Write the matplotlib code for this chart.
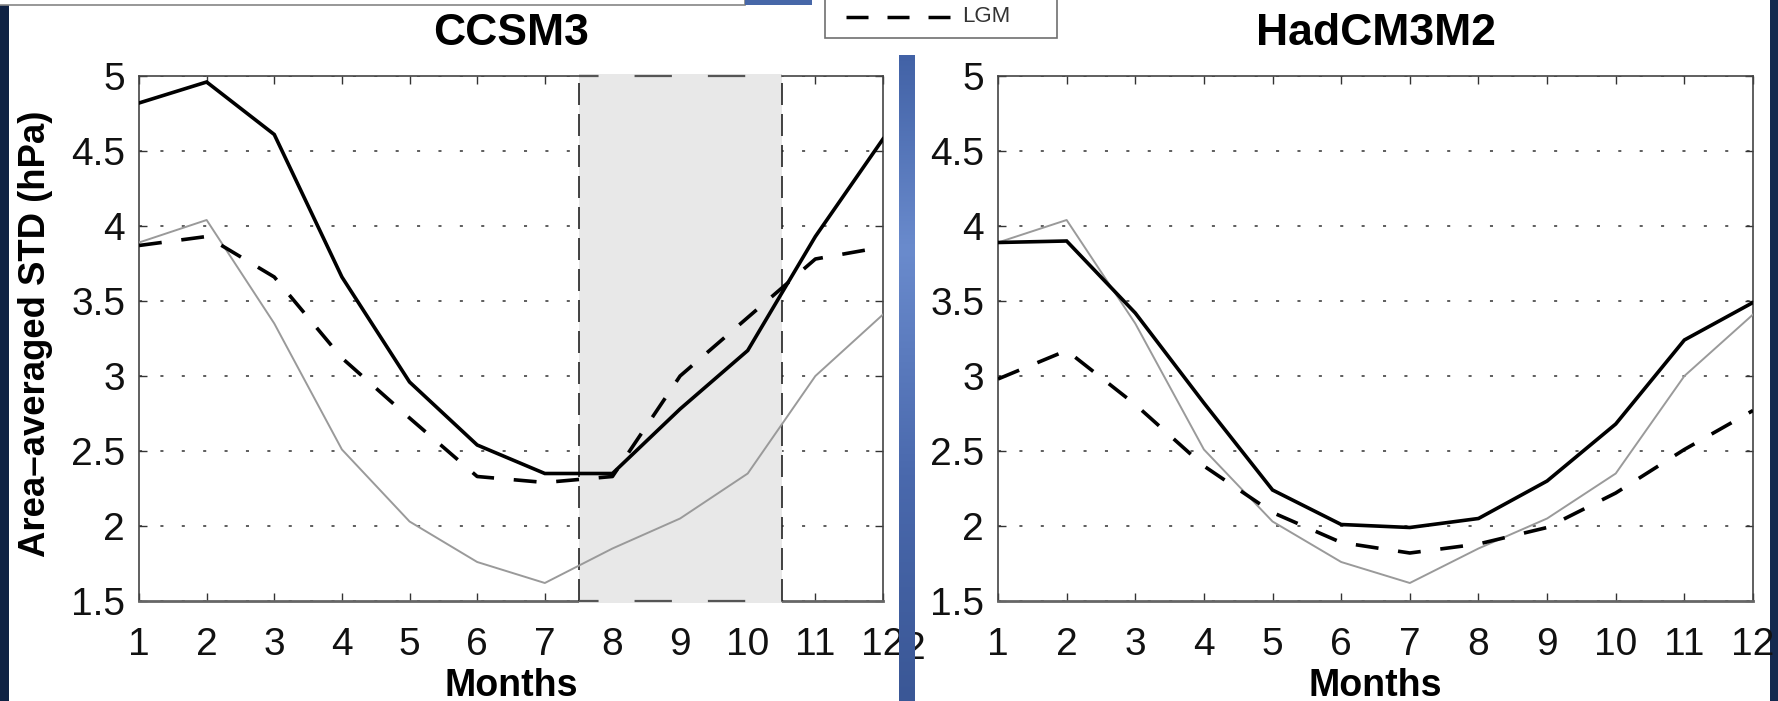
import numpy as np
import matplotlib
matplotlib.use("Agg")
import matplotlib.pyplot as plt
from matplotlib.patches import Rectangle
from matplotlib.lines import Line2D
from matplotlib.colors import LinearSegmentedColormap

plt.rcParams['font.family'] = ['Liberation Sans', 'DejaVu Sans']

W, H = 1778, 701

# ---------------- data ----------------
months = [1, 2, 3, 4, 5, 6, 7, 8, 9, 10, 11, 12]
month_labels = [str(m) for m in months]
ytick_vals = [1.5, 2, 2.5, 3, 3.5, 4, 4.5, 5]
ytick_labels = ['1.5', '2', '2.5', '3', '3.5', '4', '4.5', '5']

reference_gray = [3.89, 4.04, 3.35, 2.51, 2.03, 1.76, 1.62, 1.85, 2.05, 2.35, 3.00, 3.41]

ccsm3_ctrl = [4.82, 4.96, 4.61, 3.66, 2.96, 2.54, 2.35, 2.35, 2.78, 3.17, 3.93, 4.58]
ccsm3_lgm = [3.87, 3.93, 3.66, 3.12, 2.72, 2.33, 2.29, 2.33, 3.00, 3.39, 3.78, 3.86]

hadcm3_ctrl = [3.89, 3.90, 3.42, 2.82, 2.24, 2.01, 1.99, 2.05, 2.30, 2.68, 3.24, 3.49]
hadcm3_lgm = [2.98, 3.17, 2.81, 2.40, 2.09, 1.89, 1.82, 1.88, 1.99, 2.22, 2.51, 2.77]

shade_start, shade_end = 7.5, 10.5
titles = ['CCSM3', 'HadCM3M2']
legend_label = 'LGM'

# ---------------- styles ----------------
LGM_DASH = (0, (6.34, 5.47))
GRID_DASH = (0, (2, 12))

fig = plt.figure(figsize=(W / 100, H / 100), dpi=100, facecolor='#0f2244')


def fig_rect(x0, y0, x1, y1, **kw):
    return Rectangle((x0 / W, 1 - y1 / H), (x1 - x0) / W, (y1 - y0) / H,
                     transform=fig.transFigure, **kw)


# screenshot frame
fig.add_artist(fig_rect(9, 0, 1770, H, facecolor='white', edgecolor='none', zorder=-10))
fig.add_artist(fig_rect(-3, -3, 745, 4.5, facecolor='white', edgecolor='#858585', lw=1.2, zorder=-9))
fig.add_artist(fig_rect(745, 0, 812, 5, facecolor='#4767a8', edgecolor='none', zorder=-9))
fig.add_artist(fig_rect(1770, 0, W + 2, H, facecolor='#14294f', edgecolor='none', zorder=-9))

axL = fig.add_axes([139 / W, 1 - 601 / H, 744 / W, 525 / H])
axR = fig.add_axes([998 / W, 1 - 601 / H, 755 / W, 525 / H])


def setup(ax, title):
    ax.set_xlim(months[0], months[-1])
    ax.set_ylim(ytick_vals[0], ytick_vals[-1])
    ax.set_xticks(months)
    ax.set_xticklabels(month_labels)
    ax.set_yticks(ytick_vals)
    ax.set_yticklabels(ytick_labels)
    ax.tick_params(direction='in', length=6, width=1, top=True, right=True,
                   labelsize=28, pad=10, color='#333333', labelcolor='#111111')
    ax.tick_params(axis='x', pad=19)
    ax.set_axisbelow(True)
    ax.yaxis.grid(True, linestyle=GRID_DASH, linewidth=1.1, color='#333333')
    ax.xaxis.grid(False)
    for s in ax.spines.values():
        s.set_color('#444444')
        s.set_linewidth(1.2)
    ax.spines['bottom'].set_color('#666666')
    ax.spines['bottom'].set_linewidth(2)
    ax.set_title(title, fontsize=32, fontweight='bold', pad=22)
    ax.set_xlabel('Months', fontsize=27, fontweight='bold', labelpad=3)


for ax, title, ctrl, lgm in [(axL, titles[0], ccsm3_ctrl, ccsm3_lgm),
                            (axR, titles[1], hadcm3_ctrl, hadcm3_lgm)]:
    setup(ax, title)
    ax.plot(months, reference_gray, color='#9a9a9a', lw=1.4, zorder=3)
    ax.plot(months, lgm, color='black', lw=2.6, linestyle=LGM_DASH, zorder=4)
    ax.plot(months, ctrl, color='black', lw=2.6, zorder=5, solid_joinstyle='miter')

# shaded season on CCSM3
axL.axvspan(shade_start, shade_end, ymin=-0.004, ymax=1.004, facecolor='#e8e8e8',
            edgecolor='none', zorder=2.6, clip_on=False)
for xv in (shade_start, shade_end):
    axL.axvline(xv, color='#222222', lw=1.2, linestyle=(0, (13.2, 5.4)), zorder=2.8)
axL.hlines([ytick_vals[0], ytick_vals[-1]], shade_start, shade_end, color='#555555',
           lw=1.6, linestyle=(8, (16.8, 16.2)), zorder=2.8, clip_on=False)

axL.set_ylabel('Area–averaged STD (hPa)', fontsize=26.3, fontweight='bold')
axL.yaxis.set_label_coords(-0.116, 0.509)

# fragment of a tick label peeking out next to the blue bar
fig.text(926 / W, 1 - 659 / H, '2', ha='right', va='baseline', fontsize=28,
         color='#111111', zorder=4)

# blue separator bar (gradient)
axB = fig.add_axes([899 / W, 0, 16 / W, (H - 55) / H], zorder=5)
cmap = LinearSegmentedColormap.from_list(
    'bar', [(0, '#4262a6'), (0.3, '#6a8bcd'), (0.65, '#4a69ad'), (1, '#3a5796')])
axB.imshow(np.linspace(0, 1, 256).reshape(-1, 1), aspect='auto', cmap=cmap,
           extent=[0, 1, 0, 1], origin='upper')
axB.axis('off')

# legend fragment (box cut off at top of screenshot)
fig.add_artist(fig_rect(825, -3, 1057, 38, facecolor='white', edgecolor='#707070',
                        lw=1.2, zorder=6))
fig.add_artist(Line2D([846 / W, 950 / W], [1 - 17 / H, 1 - 17 / H], transform=fig.transFigure,
                      color='black', lw=2.5, linestyle=LGM_DASH, zorder=7))
fig.text(962 / W, 1 - 17 / H, legend_label, ha='left', va='center', fontsize=16,
         color='#333333', zorder=7)

fig.savefig('out.png', dpi=100, facecolor=fig.get_facecolor())
